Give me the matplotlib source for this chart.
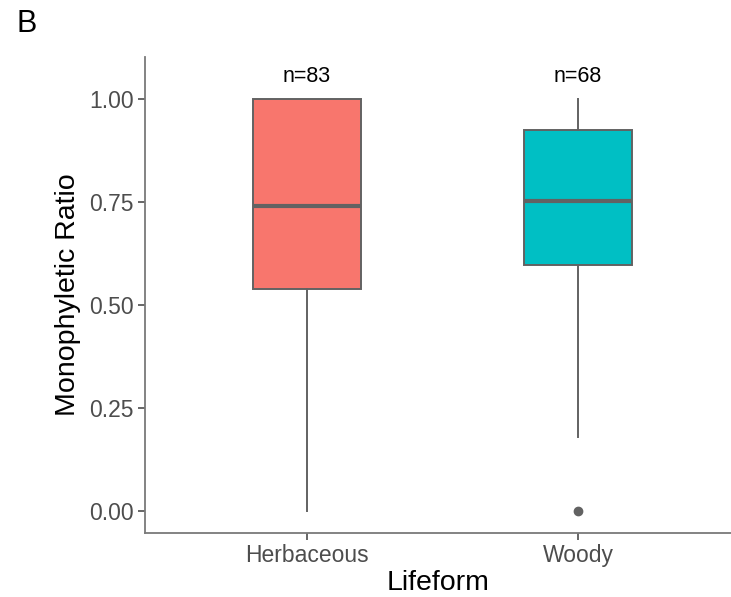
import matplotlib
matplotlib.use("Agg")
import matplotlib.pyplot as plt

plt.rcParams['font.family'] = ['Liberation Sans', 'DejaVu Sans']

# data
groups = ['Herbaceous', 'Woody']
counts = [83, 68]
whislo = [0.0, 0.18]
q1 = [0.54, 0.597]
med = [0.74, 0.752]
q3 = [1.0, 0.925]
whishi = [1.0, 1.0]
outliers = [[], [0.0]]
colors = ['#F8766D', '#00BFC4']

fig = plt.figure(figsize=(7.31, 5.97), dpi=100)
ax = fig.add_axes([0.1984, 0.1072, 0.8016, 0.7973])

stats = []
for i, g in enumerate(groups):
    stats.append(dict(label=g, whislo=whislo[i], q1=q1[i], med=med[i],
                      q3=q3[i], whishi=whishi[i], fliers=outliers[i]))

edge = '#626262'
bp = ax.bxp(stats, positions=[1, 2], widths=0.4, patch_artist=True,
            showcaps=False,
            boxprops=dict(edgecolor=edge, linewidth=1.4),
            whiskerprops=dict(color=edge, linewidth=1.4),
            medianprops=dict(color=edge, linewidth=3),
            flierprops=dict(marker='o', markerfacecolor=edge,
                            markeredgecolor=edge, markersize=6))
for patch, c in zip(bp['boxes'], colors):
    patch.set_facecolor(c)

for i, n in enumerate(counts):
    ax.text(i + 1, 1.055, f'n={n}', ha='center', va='center',
            fontsize=15.5, color='black')

ax.set_xlim(0.402, 2.565)
ax.set_ylim(-0.053, 1.102)
ax.set_yticks([0, 0.25, 0.5, 0.75, 1.0])
ax.set_yticklabels(['0.00', '0.25', '0.50', '0.75', '1.00'])
ax.set_xticks([1, 2])
ax.set_xticklabels(groups)

for side in ['top', 'right']:
    ax.spines[side].set_visible(False)
for side in ['left', 'bottom']:
    ax.spines[side].set_color('#7a7a7a')
    ax.spines[side].set_linewidth(1.3)

ax.tick_params(axis='both', colors='#4d4d4d', labelsize=16.5, length=5,
               width=1.2, pad=3)

ax.set_xlabel('Lifeform', fontsize=20.5, color='black', labelpad=2)
ax.set_ylabel('Monophyletic Ratio', fontsize=20.5, color='black', labelpad=6)

fig.text(0.023, 0.959, 'B', fontsize=22, ha='left', va='center')

fig.savefig('out.png', dpi=100)
